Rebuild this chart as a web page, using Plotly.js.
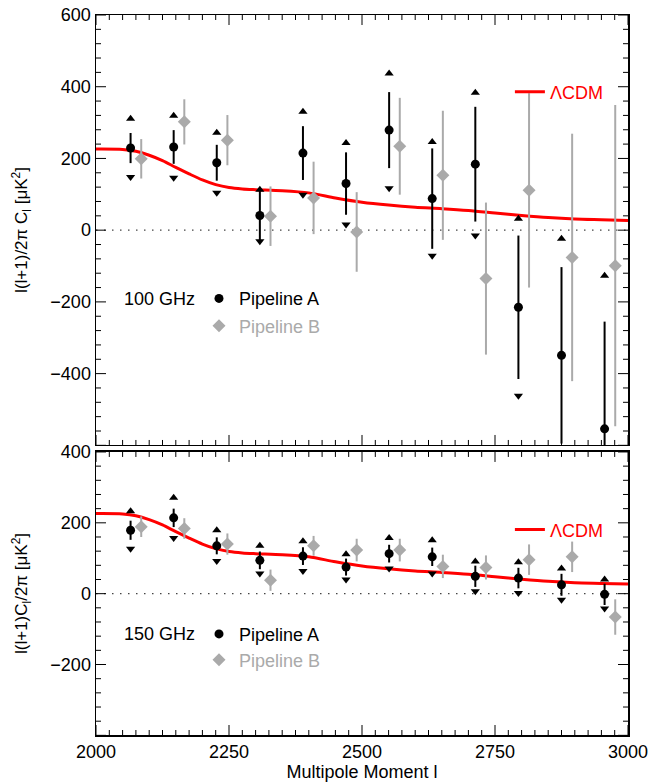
<!DOCTYPE html>
<html>
<head>
<meta charset="utf-8">
<script src="https://cdn.plot.ly/plotly-3.0.1.min.js"></script>
<style>html,body{margin:0;padding:0;background:#fff}#chart{width:649px;height:783px}</style>
</head>
<body>
<div id="chart"></div>
<script>
// Multipole bin centres
const ellA = [2065, 2146, 2227, 2308, 2389, 2470, 2551, 2632, 2713, 2794, 2875, 2956];
const ellB = [2085, 2166, 2247, 2328, 2409, 2490, 2571, 2652, 2733, 2814, 2895, 2976];

// 100 GHz
const g100A    = [229, 232, 188, 41, 215, 130, 279, 88, 184, -215, -349, -554];
const g100Aerr = [42, 47, 50, 71, 75, 87, 106, 140, 160, 200, 246, 299];
const g100Ahi  = [311, 319, 272, 113, 330, 243, 437, 246, 383, 32, -24, -127];
const g100Alo  = [148, 146, 104, -31, 99, 16, 117, -71, -15, -462, -674, -981];
const g100B    = [199, 302, 251, 39, 90, -5, 234, 153, -135, 111, -76, -99];
const g100Berr = [55, 63, 70, 83, 101, 111, 135, 180, 212, 271, 345, 448];

// 150 GHz
const g150A    = [179, 214, 135, 94, 106, 75, 113, 104, 49, 44, 25, -2];
const g150Aerr = [27, 26, 24, 25, 25, 24, 25, 26, 30, 29, 31, 30];
const g150Ahi  = [233, 271, 179, 135, 148, 111, 157, 151, 91, 89, 71, 40];
const g150Alo  = [127, 157, 92, 57, 64, 40, 71, 57, 7, 2, -17, -42];
const g150B    = [189, 184, 140, 38, 135, 123, 123, 77, 74, 96, 104, -66];
const g150Berr = [29, 29, 30, 30, 28, 32, 32, 33, 34, 43, 43, 50];

// LambdaCDM model curve
const ellCDM = [2000, 2050, 2075, 2100, 2125, 2150, 2175, 2200, 2225, 2250, 2275, 2300, 2350, 2400, 2450, 2500, 2550, 2600, 2650, 2700, 2750, 2800, 2850, 2900, 2950, 3000];
const cdm    = [226, 225, 220, 209, 194, 175, 157, 140, 127, 119, 115, 113, 110, 104, 90, 78, 70, 64, 60, 55, 48, 41, 35, 31, 29, 27];

// Axis ticks
const xRange = [2000, 3000], xMajor = 250, xMinor = 25;
const yRangeTop = [-600, 600], yRangeBot = [-400, 400], yMajor = 200, yMinor = 40;

const W = 649, H = 783;
const M = {l: 96, r: 21, t: 15, b: 48};
const domTop = [0.4028, 1], domBot = [0, 0.3931];

const GRAY = '#aaaaaa';
const FONT = 'Liberation Sans, Arial, Helvetica, sans-serif';

function panel(xa, ya, A, Aerr, Ahi, Alo, B, Berr, legA, legB, legC) {
  return [
    {x: ellCDM, y: cdm, xaxis: xa, yaxis: ya, type: 'scatter', mode: 'lines', name: 'ΛCDM',
     line: {color: '#ff0000', width: 3, shape: 'spline', smoothing: 0.8}, legend: legC, hoverinfo: 'skip'},
    {x: ellB, y: B, xaxis: xa, yaxis: ya, type: 'scatter', mode: 'markers', name: 'Pipeline B',
     marker: {symbol: 'diamond', size: 10, color: GRAY},
     error_y: {type: 'data', array: Berr, visible: true, color: GRAY, thickness: 2, width: 0},
     legend: legB},
    {x: ellA, y: Ahi, xaxis: xa, yaxis: ya, type: 'scatter', mode: 'markers', showlegend: false,
     marker: {symbol: 'triangle-up', size: 8, color: '#000'}},
    {x: ellA, y: Alo, xaxis: xa, yaxis: ya, type: 'scatter', mode: 'markers', showlegend: false,
     marker: {symbol: 'triangle-down', size: 8, color: '#000'}},
    {x: ellA, y: A, xaxis: xa, yaxis: ya, type: 'scatter', mode: 'markers', name: 'Pipeline A',
     marker: {symbol: 'circle', size: 9, color: '#000'},
     error_y: {type: 'data', array: Aerr, visible: true, color: '#000', thickness: 2, width: 0},
     legend: legA}
  ];
}

const data = [].concat(
  panel('x2', 'y2', g100A, g100Aerr, g100Ahi, g100Alo, g100B, g100Berr, 'legend', 'legend2', 'legend3'),
  panel('x', 'y', g150A, g150Aerr, g150Ahi, g150Alo, g150B, g150Berr, 'legend4', 'legend5', 'legend6')
);

// Inward tick marks on all four sides of each panel, as axis decorations in domain units
function tickShapes(xr, yr, yRange, dom) {
  const out = [];
  const tl = {color: '#000', width: 1};
  const plotW = W - M.l - M.r;
  const plotH = (H - M.t - M.b) * (dom[1] - dom[0]);
  for (let v = xRange[0]; v <= xRange[1]; v += xMinor) {
    const len = (((v - xRange[0]) % xMajor === 0) ? 10 : 5) / plotH;
    out.push({type: 'line', layer: 'above', xref: xr, yref: yr + ' domain', x0: v, x1: v, y0: 0, y1: len, line: tl});
    out.push({type: 'line', layer: 'above', xref: xr, yref: yr + ' domain', x0: v, x1: v, y0: 1, y1: 1 - len, line: tl});
  }
  for (let v = yRange[0]; v <= yRange[1]; v += yMinor) {
    const len = ((v % yMajor === 0) ? 10 : 5) / plotW;
    out.push({type: 'line', layer: 'above', xref: xr + ' domain', yref: yr, x0: 0, x1: len, y0: v, y1: v, line: tl});
    out.push({type: 'line', layer: 'above', xref: xr + ' domain', yref: yr, x0: 1, x1: 1 - len, y0: v, y1: v, line: tl});
  }
  return out;
}

const axisCommon = {
  showline: true, linecolor: '#000', linewidth: 1.5, mirror: true,
  ticks: '', showgrid: false, zeroline: false,
  tickfont: {family: FONT, size: 18, color: '#000'}
};

function leg(x, y, color) {
  return {x: x, y: y, xanchor: 'left', yanchor: 'middle', bgcolor: 'rgba(0,0,0,0)', borderwidth: 0,
          font: {family: FONT, size: 18, color: color}, itemclick: false};
}

const layout = {
  width: W, height: H,
  margin: M,
  paper_bgcolor: '#fff', plot_bgcolor: '#fff',
  font: {family: FONT, color: '#000'},
  xaxis: Object.assign({}, axisCommon, {
    domain: [0, 1], anchor: 'y', range: xRange, tickmode: 'linear', tick0: xRange[0], dtick: xMajor,
    title: {text: 'Multipole Moment l', font: {family: FONT, size: 18}, standoff: 2}
  }),
  xaxis2: Object.assign({}, axisCommon, {
    domain: [0, 1], anchor: 'y2', range: xRange, matches: 'x', tickmode: 'linear', tick0: xRange[0], dtick: xMajor,
    showticklabels: false
  }),
  yaxis: Object.assign({}, axisCommon, {
    domain: domBot, anchor: 'x', range: [yRangeBot[0] + 1, yRangeBot[1]], tickmode: 'linear', tick0: 0, dtick: yMajor,
    title: {text: 'l(l+1)C<sub>l</sub>/2π [μK<sup>2</sup>]', font: {family: FONT, size: 17}, standoff: 18}
  }),
  yaxis2: Object.assign({}, axisCommon, {
    domain: domTop, anchor: 'x2', range: [yRangeTop[0] + 1, yRangeTop[1]], tickmode: 'linear', tick0: 0, dtick: yMajor,
    title: {text: 'l(l+1)/2π C<sub>l</sub> [μK<sup>2</sup>]', font: {family: FONT, size: 17}, standoff: 18}
  }),
  showlegend: true,
  legend:  leg(0.1936, 0.606, '#000'),
  legend2: leg(0.1936, 0.568, GRAY),
  legend3: leg(0.778, 0.893, '#ff0000'),
  legend4: leg(0.1936, 0.140, '#000'),
  legend5: leg(0.1936, 0.104, GRAY),
  legend6: leg(0.778, 0.285, '#ff0000'),
  shapes: [
    {type: 'line', xref: 'x2 domain', yref: 'y2', x0: 0, x1: 1, y0: 0, y1: 0, layer: 'below',
     line: {color: '#444', width: 1.2, dash: '1.5px,6.5px'}},
    {type: 'line', xref: 'x domain', yref: 'y', x0: 0, x1: 1, y0: 0, y1: 0, layer: 'below',
     line: {color: '#444', width: 1.2, dash: '1.5px,6.5px'}}
  ].concat(tickShapes('x2', 'y2', yRangeTop, domTop), tickShapes('x', 'y', yRangeBot, domBot)),
  annotations: [
    {xref: 'paper', yref: 'paper', x: 0.049, y: 0.6056, xanchor: 'left', yanchor: 'middle', showarrow: false,
     text: '100 GHz', font: {family: FONT, size: 18, color: '#000'}},
    {xref: 'paper', yref: 'paper', x: 0.049, y: 0.140, xanchor: 'left', yanchor: 'middle', showarrow: false,
     text: '150 GHz', font: {family: FONT, size: 18, color: '#000'}}
  ]
};

Plotly.newPlot('chart', data, layout, {staticPlot: true, displayModeBar: false});
</script>
</body>
</html>
